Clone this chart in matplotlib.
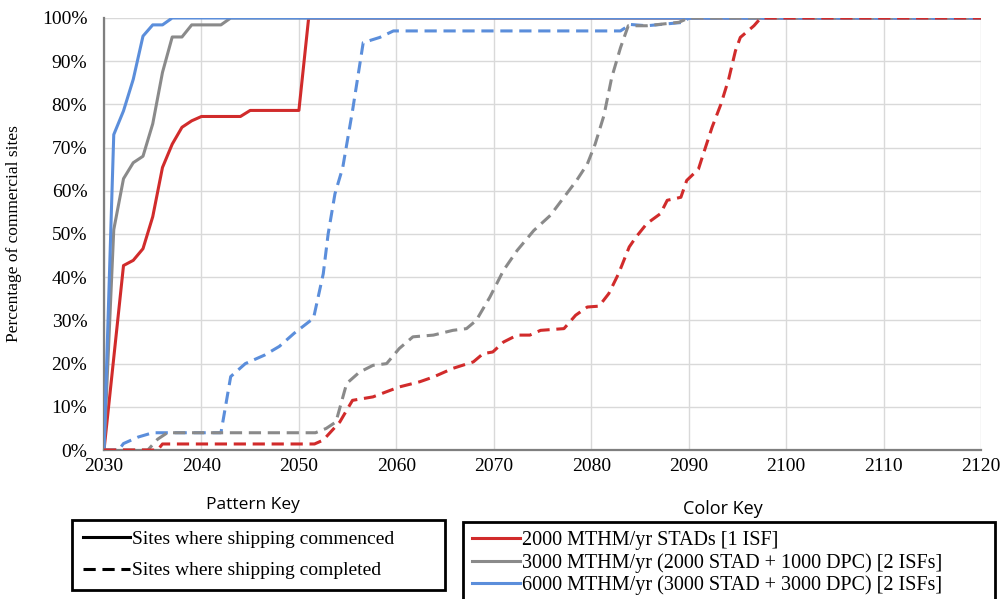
import matplotlib
matplotlib.use("Agg")
import matplotlib.pyplot as plt
from matplotlib.lines import Line2D
from matplotlib.ticker import FuncFormatter

RED = '#D12B2B'
GRAY = '#8A8A8A'
BLUE = '#5B8EDB'

# --- sites where shipping commenced (solid) ---
red_c_x = [2030, 2032, 2033, 2034, 2035, 2036, 2037, 2038, 2039, 2040, 2044, 2045, 2050, 2051, 2120]
red_c_y = [0, 42.7, 43.9, 46.6, 54, 65.4, 70.8, 74.7, 76.2, 77.2, 77.2, 78.6, 78.6, 100, 100]

gray_c_x = [2030, 2031, 2032, 2033, 2034, 2035, 2036, 2037, 2038, 2039, 2042, 2043, 2120]
gray_c_y = [0, 51, 62.8, 66.5, 68, 75.5, 87.4, 95.6, 95.6, 98.4, 98.4, 100, 100]

blue_c_x = [2030, 2031, 2032, 2033, 2034, 2035, 2036, 2037, 2120]
blue_c_y = [0, 73, 78.5, 85.8, 95.8, 98.4, 98.4, 100, 100]

# --- sites where shipping completed (dashed) ---
blue_d_x = [2030, 2031.5, 2032, 2033.5, 2035, 2042, 2043, 2044.5, 2046.5, 2048, 2049.5, 2051.5,
            2052.5, 2053, 2053.7, 2054.5, 2055.5, 2056.6, 2058.3, 2059.7, 2083, 2084, 2085.7,
            2089.5, 2090, 2120]
blue_d_y = [0, 0, 1.5, 3, 4, 4, 17, 20, 22, 24, 27, 30.5, 40.8, 50, 59.3, 65.4, 78.5, 94.3,
            95.5, 97, 97, 98.5, 98.2, 99, 100, 100]

gray_d_x = [2030, 2034.5, 2035.5, 2036.5, 2051.7, 2052.8, 2053.8, 2054.9, 2056.2, 2057.6, 2059,
            2060.3, 2061.7, 2063.8, 2065.8, 2067.2, 2068.2, 2069.6, 2071, 2072.4, 2074.1, 2075.8,
            2077.2, 2078.5, 2079.6, 2080.4, 2081.3, 2082.1, 2083, 2083.8, 2085.7, 2089, 2090, 2120]
gray_d_y = [0, 0, 2.5, 4, 4, 5, 6.5, 15.4, 18, 19.6, 20, 23.5, 26.2, 26.6, 27.7, 28.1, 30, 35.4,
            41.6, 46.2, 50.8, 54.3, 58.5, 62.4, 66.2, 70.8, 77.4, 86.2, 93.1, 98.2, 98.2, 99, 100, 100]

red_d_x = [2030, 2035.5, 2036, 2051.6, 2052.5, 2054.2, 2055.5, 2057.6, 2059, 2060.3, 2062.4,
           2063.8, 2065.8, 2067.9, 2068.9, 2069.9, 2071, 2072.4, 2073.7, 2074.8, 2077.2, 2078.4,
           2079.6, 2080.8, 2081.8, 2082.8, 2083.9, 2084.6, 2085.7, 2087.1, 2087.8, 2089.2, 2089.8,
           2091, 2091.5, 2092.4, 2093.3, 2094.1, 2094.8, 2095.3, 2096.7, 2097.4, 2120]
red_d_y = [0, 0, 1.4, 1.4, 2.3, 6.5, 11.5, 12.3, 13.5, 14.6, 15.8, 16.9, 18.9, 20.4, 22.3, 22.7,
           25, 26.6, 26.6, 27.7, 28.1, 31.2, 33.1, 33.3, 36.2, 40.8, 47, 49.3, 52.4, 54.7, 57.8,
           58.5, 62.4, 65, 68.5, 74.7, 80, 85.8, 92.4, 95.5, 98.2, 100, 100]

x_ticks = list(range(2030, 2121, 10))
y_ticks = list(range(0, 101, 10))

color_labels = ['2000 MTHM/yr STADs [1 ISF]',
                '3000 MTHM/yr (2000 STAD + 1000 DPC) [2 ISFs]',
                '6000 MTHM/yr (3000 STAD + 3000 DPC) [2 ISFs]']
pattern_labels = ['Sites where shipping commenced', 'Sites where shipping completed']

plt.rcParams['font.family'] = ['Liberation Serif', 'DejaVu Serif']

fig = plt.figure(figsize=(10.04, 5.99), dpi=100)
ax = fig.add_axes([0.1036, 0.2487, 0.8735, 0.7213])

lw = 2.2
dash = (0, (4, 2.2))
ax.plot(red_c_x, red_c_y, color=RED, lw=lw, zorder=3)
ax.plot(gray_c_x, gray_c_y, color=GRAY, lw=lw, zorder=3)
ax.plot(blue_c_x, blue_c_y, color=BLUE, lw=lw, zorder=3)
ax.plot(blue_d_x, blue_d_y, color=BLUE, lw=lw, ls=dash, zorder=4)
ax.plot(gray_d_x, gray_d_y, color=GRAY, lw=lw, ls=dash, zorder=4)
ax.plot(red_d_x, red_d_y, color=RED, lw=lw, ls=dash, zorder=5)

ax.set_xlim(2030, 2120)
ax.set_ylim(0, 100)
ax.set_xticks(x_ticks)
ax.set_yticks(y_ticks)
ax.yaxis.set_major_formatter(FuncFormatter(lambda v, p: f"{v:.0f}%"))
ax.tick_params(axis='x', length=0, labelsize=14, pad=6)
ax.tick_params(axis='y', length=0, labelsize=14, pad=12)
ax.grid(True, color='#D9D9D9', lw=1)
ax.set_axisbelow(True)
for s in ['top', 'right']:
    ax.spines[s].set_visible(False)
for s in ['left', 'bottom']:
    ax.spines[s].set_color('#7F7F7F')
    ax.spines[s].set_linewidth(1.6)
ax.set_ylabel('Percentage of commercial sites', fontsize=12.5, labelpad=14)

# legend titles
fig.text(0.252, 0.157, 'Pattern Key', ha='center', va='center', fontsize=12.5, family='Open Sans')
fig.text(0.72, 0.151, 'Color Key', ha='center', va='center', fontsize=13, family='Open Sans')

pattern_handles = [Line2D([], [], color='black', lw=2.2),
                   Line2D([], [], color='black', lw=2.2, ls=dash)]
leg1 = fig.legend(pattern_handles, pattern_labels, loc='upper left',
                  bbox_to_anchor=(0.072, 0.132, 0.371, 0.0), mode='expand', borderaxespad=0,
                  fontsize=14, handlelength=2.4, handletextpad=0.1, labelspacing=0.7,
                  borderpad=0.55, fancybox=False, edgecolor='black', framealpha=1)
leg1.get_frame().set_linewidth(2)

color_handles = [Line2D([], [], color=RED, lw=2.2),
                 Line2D([], [], color=GRAY, lw=2.2),
                 Line2D([], [], color=BLUE, lw=2.2)]
leg2 = fig.legend(color_handles, color_labels, loc='upper left',
                  bbox_to_anchor=(0.461, 0.129, 0.53, 0.0), mode='expand', borderaxespad=0,
                  fontsize=14.5, handlelength=2.4, handletextpad=0.1, labelspacing=0.15,
                  borderpad=0.45, fancybox=False, edgecolor='black', framealpha=1)
leg2.get_frame().set_linewidth(2)

fig.savefig('out.png', dpi=100)
